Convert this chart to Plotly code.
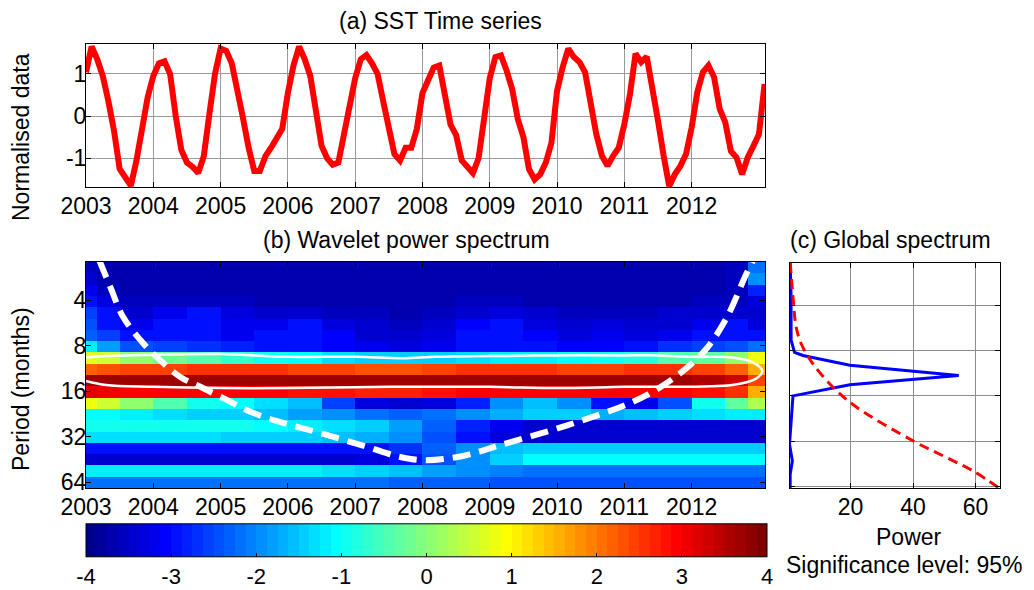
import math
import plotly.graph_objects as go

W, H = 1034, 590

# ---------------- data ----------------
# (a) normalised SST, monthly from Jan 2003
month_index = list(range(122))
time_years = [2003 + m / 12 for m in month_index]
sst_norm = [1.04, 1.65, 1.35, 0.95, 0.35, -0.35, -1.25, -1.45, -1.65, -1.05,
            -0.35, 0.45, 0.95, 1.25, 1.30, 1.00, 0.00, -0.80, -1.10, -1.20,
            -1.35, -0.95, 0.05, 1.00, 1.60, 1.55, 1.25, 0.65, -0.05, -0.75,
            -1.30, -1.30, -0.95, -0.75, -0.55, -0.30, 0.55, 1.20, 1.65, 1.35,
            0.95, 0.00, -0.70, -1.00, -1.15, -1.10, -0.45, 0.25, 0.90, 1.35,
            1.45, 1.25, 1.00, 0.35, -0.30, -0.90, -1.05, -0.75, -0.75, -0.30,
            0.55, 0.85, 1.15, 1.20, 0.50, -0.20, -0.45, -1.05, -1.20, -1.35,
            -1.00, 0.05, 0.90, 1.40, 1.44, 1.08, 0.64, -0.07, -0.50, -1.26,
            -1.50, -1.38, -1.10, -0.63, 0.60, 1.16, 1.60, 1.40, 1.28, 1.04,
            0.29, -0.43, -0.94, -1.18, -0.94, -0.75, -0.19, 0.52, 1.48, 1.28,
            1.41, 0.72, -0.11, -0.94, -1.66, -1.38, -1.18, -0.90, -0.27, 0.56,
            1.04, 1.20, 0.92, 0.17, -0.15, -0.83, -0.98, -1.38, -0.98, -0.71,
            -0.43, 0.76]
year_ticks = [2003, 2004, 2005, 2006, 2007, 2008, 2009, 2010, 2011, 2012]
sst_ticks = [-1, 0, 1]
sst_tick_text = ["-1", "0", "1"]

# (b) wavelet power (log2), rows = period bands (top -> bottom), cols = time bins
time_edges = [2003.0, 2003.17, 2003.5, 2004.0, 2004.5, 2005.0, 2005.5, 2006.0,
              2006.5, 2007.0, 2007.5, 2008.0, 2008.5, 2009.0, 2009.5, 2010.0,
              2010.5, 2011.0, 2011.5, 2012.0, 2012.5, 2012.83, 2013.09]
period_edges = [2.242, 2.663, 3.164, 3.758, 4.463, 5.301, 6.297, 7.480, 8.884,
                10.55, 12.54, 14.89, 17.68, 21.00, 24.95, 29.63, 35.19, 41.80,
                49.65, 58.97, 70.04]
log2_power = [
    [-3.6, -3.7, -3.7, -3.7, -3.7, -3.7, -3.7, -3.7, -3.7, -3.7, -3.7, -3.7, -3.7, -3.7, -3.7, -3.7, -3.7, -3.7, -3.7, -3.7, -3.6, -2.2],
    [-3.4, -3.7, -3.7, -3.7, -3.7, -3.7, -3.7, -3.7, -3.7, -3.7, -3.7, -3.7, -3.7, -3.7, -3.7, -3.7, -3.7, -3.7, -3.7, -3.7, -3.6, -2.0],
    [-3.2, -3.6, -3.7, -3.7, -3.7, -3.7, -3.7, -3.7, -3.7, -3.7, -3.7, -3.7, -3.7, -3.7, -3.7, -3.7, -3.7, -3.7, -3.7, -3.7, -3.6, -2.8],
    [-2.9, -3.3, -3.6, -3.6, -3.6, -3.6, -3.7, -3.7, -3.7, -3.7, -3.7, -3.7, -3.6, -3.6, -3.7, -3.7, -3.7, -3.7, -3.7, -3.6, -3.6, -3.3],
    [-2.6, -3.0, -3.4, -3.2, -3.0, -3.3, -3.5, -3.4, -3.6, -3.6, -3.7, -3.6, -3.4, -3.3, -3.5, -3.6, -3.6, -3.6, -3.5, -3.4, -3.5, -3.5],
    [-2.5, -2.9, -3.2, -3.0, -2.9, -3.2, -3.2, -3.0, -3.3, -3.5, -3.6, -3.4, -3.1, -3.0, -3.3, -3.4, -3.3, -3.5, -3.5, -3.2, -3.0, -3.3],
    [-2.3, -2.6, -3.0, -2.9, -3.0, -3.2, -3.0, -2.9, -3.1, -3.4, -3.5, -3.3, -3.0, -2.9, -3.1, -3.3, -3.2, -3.3, -3.2, -3.0, -2.9, -3.0],
    [-1.2, -1.8, -2.4, -2.6, -2.7, -2.8, -3.0, -3.0, -3.1, -3.2, -3.3, -3.2, -3.0, -2.9, -3.0, -3.1, -3.1, -2.9, -2.7, -2.6, -2.4, -2.2],
    [0.7, 0.5, 0.1, -0.2, -0.4, -0.7, -0.9, -1.1, -1.3, -1.4, -1.5, -1.4, -1.3, -1.2, -1.2, -1.1, -1.0, -0.8, -0.5, -0.3, 0.0, 0.8],
    [2.2, 2.3, 2.4, 2.4, 2.5, 2.5, 2.5, 2.4, 2.4, 2.3, 2.3, 2.4, 2.5, 2.5, 2.5, 2.4, 2.4, 2.5, 2.5, 2.4, 2.2, 1.6],
    [3.7, 3.7, 3.7, 3.7, 3.7, 3.7, 3.7, 3.7, 3.7, 3.7, 3.7, 3.7, 3.7, 3.7, 3.7, 3.7, 3.7, 3.7, 3.7, 3.6, 3.3, 2.4],
    [3.2, 3.0, 2.9, 2.9, 2.9, 2.9, 2.9, 2.8, 2.8, 2.7, 2.7, 2.8, 2.9, 2.9, 2.9, 2.9, 2.9, 2.9, 2.9, 2.8, 2.6, 1.5],
    [0.8, 0.6, 0.0, -0.5, -0.9, -1.1, -1.3, -1.6, -2.6, -3.3, -3.4, -3.3, -2.8, -2.0, -1.6, -2.0, -3.0, -3.2, -2.4, -1.0, -0.3, 0.3],
    [-1.1, -1.1, -1.2, -1.3, -1.4, -1.5, -1.6, -1.8, -2.0, -2.2, -2.3, -2.2, -2.0, -1.7, -1.5, -1.5, -1.7, -1.6, -1.4, -1.3, -1.2, -1.2],
    [-0.9, -0.9, -0.9, -0.9, -1.0, -1.0, -1.1, -1.2, -1.3, -1.5, -1.8, -2.3, -2.8, -3.2, -3.4, -3.4, -3.4, -3.4, -3.4, -3.4, -3.4, -3.4],
    [-1.3, -1.3, -1.3, -1.3, -1.3, -1.4, -1.4, -1.5, -1.6, -1.7, -1.9, -2.4, -2.9, -3.3, -3.5, -3.5, -3.5, -3.5, -3.5, -3.5, -3.5, -3.5],
    [-3.0, -3.0, -3.0, -3.0, -3.0, -3.0, -3.0, -3.0, -3.0, -2.9, -2.7, -2.3, -1.9, -1.6, -1.4, -1.4, -1.4, -1.4, -1.4, -1.4, -1.4, -1.4],
    [-3.5, -3.5, -3.5, -3.5, -3.5, -3.5, -3.5, -3.5, -3.4, -3.3, -3.0, -2.5, -1.9, -1.4, -1.1, -1.1, -1.1, -1.1, -1.1, -1.1, -1.1, -1.1],
    [-1.2, -1.2, -1.2, -1.2, -1.2, -1.2, -1.2, -1.2, -1.3, -1.4, -1.6, -1.8, -2.0, -2.1, -2.2, -2.2, -2.2, -2.2, -2.2, -2.2, -2.2, -2.2],
    [-2.2, -2.2, -2.2, -2.2, -2.2, -2.2, -2.2, -2.2, -2.2, -2.2, -2.3, -2.3, -2.3, -2.4, -2.4, -2.4, -2.4, -2.4, -2.4, -2.4, -2.4, -2.4],
]
period_ticks = [4, 8, 16, 32, 64]
colorbar_ticks = [-4, -3, -2, -1, 0, 1, 2, 3, 4]
colorbar_tick_text = ["-4", "-3", "-2", "-1", "0", "1", "2", "3", "4"]

# cone of influence
coi_year = [2003.20, 2003.36, 2003.55, 2003.85, 2004.10, 2004.40, 2004.70, 2005.10,
            2005.48, 2005.93, 2006.48, 2007.18, 2007.67, 2008.05, 2008.60, 2009.15,
            2010.16, 2011.04, 2011.44, 2011.84, 2012.20, 2012.51, 2012.81, 2012.91]
coi_period = [2.2, 3.27, 5.17, 7.73, 9.99, 12.9, 15.0, 18.4, 22.3, 26.0, 30.3, 37.5,
              43.7, 45.9, 43.0, 36.5, 26.9, 19.6, 16.0, 12.1, 8.6, 5.35, 2.7, 2.2]

# 95% significance contour
sig_year = [2003.0, 2003.3, 2004.0, 2005.0, 2006.0, 2007.0, 2007.7, 2008.2, 2009.0,
            2010.0, 2011.0, 2011.5, 2012.0, 2012.6, 2012.9, 2013.05, 2012.95,
            2012.6, 2011.0, 2010.0, 2009.0, 2007.5, 2006.0, 2005.0, 2004.0,
            2003.3, 2003.0]
sig_period = [9.6, 9.4, 9.2, 9.1, 9.5, 9.5, 9.7, 9.5, 9.4, 9.3, 9.3, 9.3, 9.5, 9.6,
              10.3, 11.8, 13.3, 14.6, 15.0, 15.3, 15.0, 15.0, 15.3, 15.3, 15.0,
              14.6, 13.7]

# (c) global wavelet spectrum and 95% significance
gws_power = [0.7, 1.0, 1.0, 2.1, 4.8, 19.8, 54.6, 19.8, 1.6, 1.0, 0.5, 1.4, 0.7, 0.7]
gws_period = [2.08, 3.48, 6.8, 8.2, 8.6, 10.0, 11.7, 13.5, 16.0, 22.3, 33.6, 43.4, 53.4, 65.8]
sig_power = [0.7, 1.6, 2.6, 4.2, 8.0, 14.4, 21.9, 40.1, 50.9, 59.4, 67.5]
sig_gws_period = [2.08, 3.48, 5.54, 7.16, 9.78, 14.0, 19.0, 32.0, 41.4, 50.9, 65.8]
power_ticks = [20, 40, 60]

# ---------------- figure ----------------
FONT = "Liberation Sans, Arial, Helvetica, sans-serif"
FS = 23


def px_x(p):
    return p / W


def px_y(p):
    return 1 - p / H


def matlab_jet64():
    cols = []
    for i in range(1, 65):
        if i <= 8:
            r, g, b = 0.0, 0.0, 0.5 + i / 16
        elif i <= 24:
            r, g, b = 0.0, (i - 8) / 16, 1.0
        elif i <= 40:
            r, g, b = (i - 24) / 16, 1.0, 1 - (i - 24) / 16
        elif i <= 56:
            r, g, b = 1.0, 1 - (i - 40) / 16, 0.0
        else:
            r, g, b = 1 - (i - 56) / 16, 0.0, 0.0
        cols.append("rgb(%d,%d,%d)" % (round(r * 255), round(g * 255), round(b * 255)))
    scale = []
    for i, c in enumerate(cols):
        scale.append([i / 64, c])
        scale.append([(i + 1) / 64, c])
    return scale


jet = matlab_jet64()

fig = go.Figure()

fig.add_trace(go.Scatter(x=time_years, y=sst_norm, mode="lines",
                         line=dict(color="#FF0000", width=6),
                         xaxis="x", yaxis="y", showlegend=False))

fig.add_trace(go.Heatmap(
    x=time_edges, y=period_edges, z=log2_power, zmin=-4, zmax=4,
    colorscale=jet, xaxis="x2", yaxis="y2",
    colorbar=dict(orientation="h", x=px_x(426.5), xanchor="center",
                  y=px_y(559), yanchor="middle", len=681 / W, lenmode="fraction",
                  thickness=33, thicknessmode="pixels", outlinewidth=1,
                  outlinecolor="black", tickvals=colorbar_ticks,
                  ticktext=colorbar_tick_text, ticks="inside",
                  ticklen=4, tickcolor="black", xpad=0, ypad=0,
                  tickfont=dict(size=22, color="black", family=FONT))))

fig.add_trace(go.Scatter(x=sig_year, y=sig_period, mode="lines",
                         line=dict(color="white", width=2.5, shape="spline"),
                         xaxis="x2", yaxis="y2", showlegend=False))
fig.add_trace(go.Scatter(x=coi_year, y=coi_period, mode="lines",
                         line=dict(color="white", width=6, dash="18px,9px", shape="spline"),
                         xaxis="x2", yaxis="y2", showlegend=False))

fig.add_trace(go.Scatter(x=gws_power, y=gws_period, mode="lines",
                         line=dict(color="#0000FF", width=3),
                         xaxis="x3", yaxis="y3", showlegend=False))
fig.add_trace(go.Scatter(x=sig_power, y=sig_gws_period, mode="lines",
                         line=dict(color="#FF0000", width=3, dash="10px,6px", shape="spline"),
                         xaxis="x3", yaxis="y3", showlegend=False))

axis_common = dict(showline=True, linecolor="black", linewidth=1, mirror="ticks",
                   ticks="inside", ticklen=5, tickcolor="black", zeroline=False,
                   tickfont=dict(size=FS, color="black", family=FONT))

fig.update_layout(
    width=W, height=H, margin=dict(l=0, r=0, t=0, b=0, autoexpand=False),
    paper_bgcolor="white", plot_bgcolor="white",
    font=dict(family=FONT, size=FS, color="black"),
    xaxis=dict(domain=[px_x(86), px_x(765)], range=[2003, 2013.09], anchor="y",
               tickvals=year_ticks, showgrid=True, gridcolor="#9a9a9a", gridwidth=1,
               ticklabelstandoff=-2, **axis_common),
    yaxis=dict(domain=[px_y(187), px_y(44)], range=[-1.68, 1.71], anchor="x",
               tickvals=sst_ticks, ticktext=sst_tick_text, showgrid=True,
               gridcolor="#9a9a9a", gridwidth=1, ticklabelstandoff=-6, **axis_common),
    xaxis2=dict(domain=[px_x(86), px_x(765)], range=[2003, 2013.09], anchor="y2",
                tickvals=year_ticks, showgrid=False, ticklabelstandoff=-2, **axis_common),
    yaxis2=dict(domain=[px_y(488), px_y(262)], type="log",
                range=[math.log10(70.04), math.log10(2.242)], anchor="x2",
                tickvals=period_ticks, showgrid=False, ticklabelstandoff=-6,
                **axis_common),
    xaxis3=dict(domain=[px_x(790), px_x(1000)], range=[0.65, 67.8], anchor="y3",
                tickvals=power_ticks, showgrid=True, gridcolor="#8c8c8c", gridwidth=1,
                ticklabelstandoff=-2, **axis_common),
    yaxis3=dict(domain=[px_y(488), px_y(263)], type="log",
                range=[math.log10(65.8), math.log10(2.08)], anchor="x3",
                tickvals=period_ticks, showticklabels=False, showgrid=True,
                gridcolor="#8c8c8c", gridwidth=1, **axis_common),
)


def label(text, x, y, angle=0):
    fig.add_annotation(text=text, x=px_x(x), y=px_y(y), xref="paper", yref="paper",
                       xanchor="center", yanchor="middle", showarrow=False,
                       textangle=angle, font=dict(size=FS, color="black", family=FONT))


label("(a) SST Time series", 440, 21)
label("(b) Wavelet power spectrum", 406, 240)
label("(c) Global spectrum", 890, 240)
label("Normalised data", 21, 137, -90)
label("Period (months)", 21, 389, -90)
label("Power", 909, 537)
label("Significance level: 95%", 904, 565)

fig.write_html("out.html")
